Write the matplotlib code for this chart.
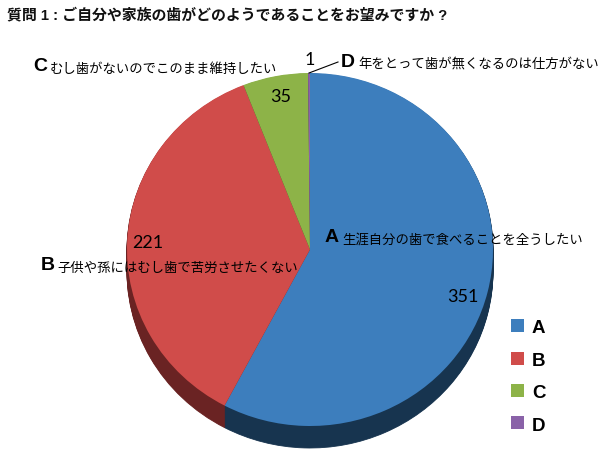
import matplotlib
matplotlib.use("Agg")
import matplotlib.pyplot as plt
from matplotlib.transforms import Affine2D

W, H = 607, 456
categories = ["A", "B", "C", "D"]
values = [351, 221, 35, 1]
colors = ["#3d7ebd", "#d04c4a", "#8db348", "#8a62a8"]
side_colors = ["#17344f", "#6a2323", "#3f5220", "#3d2b4b"]
descriptions = ["生涯自分の歯で食べることを全うしたい", "子供や孫にはむし歯で苦労させたくない",
                "むし歯がないのでこのまま維持したい", "年をとって歯が無くなるのは仕方がない"]
title = "質問 1 : ご自分や家族の歯がどのようであることをお望みですか ?"

CX, CY, RX, RY, DEPTH = 310, 250.5, 183, 176.5, 22
CJK = ["Noto Sans CJK JP", "DejaVu Sans"]

fig = plt.figure(figsize=(W / 100, H / 100), dpi=100, facecolor="white")
ax = fig.add_axes([0, 0, 1, 1])

# extruded side
for d in range(DEPTH, 0, -1):
    ax.pie(values, colors=side_colors, startangle=90, counterclock=False,
           center=(0, -d / RY), radius=1, wedgeprops=dict(linewidth=0.6))
    for w, c in zip(ax.patches[-4:], side_colors):
        w.set_edgecolor(c)
wedges, _ = ax.pie(values, colors=colors, startangle=90, counterclock=False,
                   center=(0, 0), radius=1, wedgeprops=dict(linewidth=0))
ax.set_aspect("auto")
ax.set_xlim((0 - CX) / RX, (W - CX) / RX)
ax.set_ylim((CY - H) / RY, CY / RY)
ax.axis("off")

px = Affine2D().scale(1, -1).translate(0, H)  # pixel coords, y down


def T(x, y, s, **kw):
    return fig.text(x, y, s, transform=px, va="center", **kw)


T(7, 15, title, family=["Liberation Sans", "Noto Sans CJK JP"], fontsize=10.75,
  fontweight="bold", ha="left", color="#111111")

big = dict(family="Liberation Sans", fontsize=14, fontweight="bold", ha="left", color="black")
small = dict(family=CJK, fontsize=9.6, ha="left", color="black")
T(325, 238, "A", **big)
T(342, 240, descriptions[0], **small)
T(41, 266, "B", **big)
T(57, 268, descriptions[1], **small)
T(33, 67, "C", **big)
T(50, 69, descriptions[2], **small)
T(341, 63, "D", **big)
T(358, 65, descriptions[3], **small)

num = dict(family="Lato", fontsize=13, ha="center", color="black")
T(463, 297, str(values[0]), **num)
T(148, 243, str(values[1]), **num)
T(281, 97, str(values[2]), **num)
T(310, 60, str(values[3]), **num)

# leader line to the D slice
fig.add_artist(plt.Line2D([309, 338], [74, 63], transform=px, color="black", lw=0.8))

fig.legend(wedges, categories, loc="upper left", bbox_to_anchor=(498 / W, 1 - 307 / H),
           frameon=False, prop=dict(family="Liberation Sans", size=13.5, weight="bold"),
           handlelength=0.69, handleheight=0.69, handletextpad=0.42, labelspacing=0.82,
           borderpad=0.2)

fig.savefig("out.png", dpi=100)
